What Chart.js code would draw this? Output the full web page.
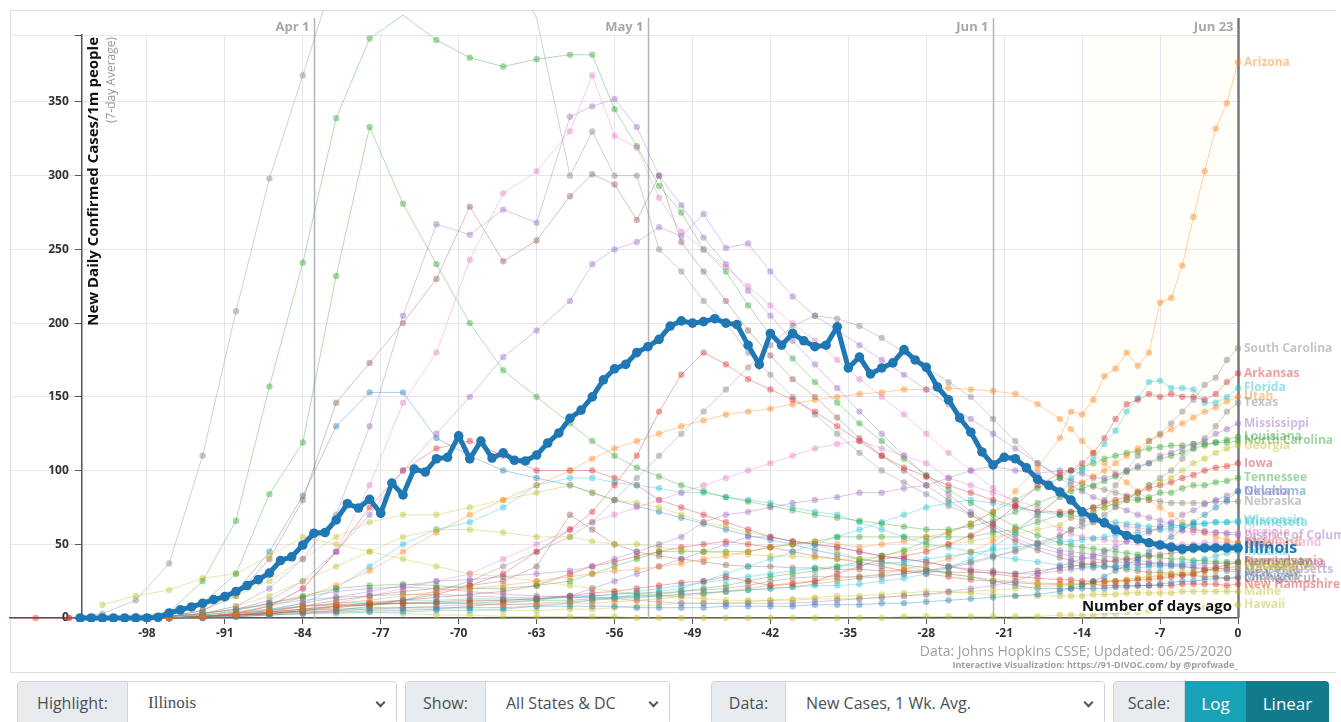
<!DOCTYPE html>
<html lang="en">
<head>
<meta charset="UTF-8">
<title>New Daily Confirmed Cases/1m people</title>
<script src="https://cdn.jsdelivr.net/npm/chart.js"></script>
<style>
  body { margin: 0; background: #fff; font-family: "Open Sans", Arial, sans-serif; width: 1341px; height: 722px; overflow: hidden; position: relative; }
  .chart-box { position: absolute; left: 0; top: 0; width: 1341px; height: 676px; }
  .group { position: absolute; top: 681px; height: 44px; display: flex; border: 1px solid #ced4da; border-radius: 4px; overflow: hidden; font-size: 16px; color: #495057; box-sizing: border-box; }
  .group .lab { background: #e9ecef; display: flex; align-items: center; justify-content: center; border-right: 1px solid #ced4da; box-sizing: border-box; }
  .group .sel { background: #fff; flex: 1; display: flex; align-items: center; padding-left: 20px; position: relative; }
  .group .sel::after { content: ""; position: absolute; right: 12px; top: 17px; width: 5px; height: 5px; border-right: 2px solid #555; border-bottom: 2px solid #555; transform: rotate(45deg); }
  .serif { font-family: "Liberation Serif", serif; font-size: 17px; }
  .btn { display: flex; align-items: center; justify-content: center; color: #fff; font-size: 17px; }
</style>
</head>
<body>
<div class="chart-box"><canvas id="casesChart"></canvas></div>

<div class="group" style="left:17px;width:380px;"><div class="lab" style="width:110px;">Highlight:</div><div class="sel serif">Illinois</div></div>
<div class="group" style="left:405px;width:265px;"><div class="lab" style="width:80px;">Show:</div><div class="sel">All States &amp; DC</div></div>
<div class="group" style="left:711px;width:394px;"><div class="lab" style="width:74px;">Data:</div><div class="sel">New Cases, 1 Wk. Avg.</div></div>
<div class="group" style="left:1113px;width:216px;border:none;"><div class="lab" style="width:72px;border:1px solid #ced4da;border-radius:4px 0 0 4px;">Scale:</div><div class="btn" style="width:61px;background:#17a2b8;">Log</div><div class="btn" style="width:83px;background:#117a8b;">Linear</div></div>

<script>
// days ago where the background states have a point
const DAYS = [-102, -99, -96, -93, -90, -87, -84, -81, -78, -75, -72, -69, -66, -63, -60,
  -58, -56, -54, -52, -50, -48, -46, -44, -42, -40, -38, -36, -34, -32, -30, -28, -26, -24, -22, -20, -18, -16,
  -15, -14, -13, -12, -11, -10, -9, -8, -7, -6, -5, -4, -3, -2, -1, 0];
const LEAD_DAYS = [-111, -108, -105];

const X_TICKS = [-98, -91, -84, -77, -70, -63, -56, -49, -42, -35, -28, -21, -14, -7, 0];
const Y_TICKS = [0, 50, 100, 150, 200, 250, 300, 350];
const MONTH_DAYS = [-83, -53, -22, 0];
const MONTH_LABELS = ['Apr 1', 'May 1', 'Jun 1', 'Jun 23'];

// Illinois, one value per day from day -104 to today
const IL_FIRST_DAY = -104;
const ILLINOIS = [0, 0, 0, 0, 0, 0, 0, 0.5,
  3.4, 5.5, 7.5, 10, 12.5, 14.5, 18, 22, 26, 30.5, 39, 41.5, 49.5, 57.5, 58, 66.5, 77.5, 74.6, 80.5, 71,
  91.5, 83.5, 101, 99, 108, 109, 123.5, 108, 120, 108.5, 112, 107, 106.5, 110.5, 118.7, 125.5, 135.5, 141,
  150, 161.5, 169, 172, 180, 184, 189, 198, 201.5, 200, 201, 203, 200, 199, 185, 172, 193, 185, 193, 188,
  184, 185, 197.5, 169.6, 177, 165.5, 169.6, 173, 182, 175, 170, 156.7, 148, 135.7, 126, 112.6, 103.8, 109,
  108, 101.8, 94, 90, 85.5, 80, 72, 68, 64.5, 59.7, 56, 53.6, 51, 49.5, 48, 46.8, 47.5, 47.5, 47.5, 47.5, 47.5];

const ARIZONA = [0, 0, 0, 1, 3, 5, 8, 10, 12, 15, 18, 20, 22, 25, 28,
  30, 32, 33, 35, 37, 40, 42, 45, 48, 50, 52, 50, 48, 50, 52, 55, 58, 64, 72, 86, 102, 122,
  140, 138, 148, 164, 169, 180, 171, 180, 214, 217, 239, 272, 303, 332, 349, 377];
const SOUTH_CAROLINA = [0, 0, 1, 3, 6, 9, 12, 14, 15, 16, 16, 15, 14, 14, 15,
  15, 16, 17, 17, 18, 19, 20, 22, 25, 27, 28, 28, 28, 29, 30, 32, 34, 37, 41, 46, 51, 56,
  60, 65, 72, 80, 90, 100, 110, 120, 125, 132, 140, 148, 158, 163, 175, 183];
const ARKANSAS_LEAD = [0, 0, 0];
const ARKANSAS = [0, 0, 0, 1, 3, 5, 8, 9, 10, 10, 11, 12, 12, 13, 15,
  17, 18, 20, 22, 24, 25, 28, 25, 22, 23, 25, 30, 35, 40, 42, 45, 50, 56, 64, 76, 90, 98,
  100, 105, 112, 122, 135, 145, 148, 152, 150, 152, 150, 150, 148, 152, 160, 166];
const FLORIDA = [0, 0, 1, 2, 4, 6, 8, 10, 11, 12, 12, 13, 13, 13, 14,
  14, 14, 14, 15, 16, 17, 18, 19, 20, 21, 22, 22, 23, 25, 27, 30, 34, 40, 48, 58, 70, 82,
  95, 100, 108, 118, 127, 140, 149, 160, 161, 156, 156, 155, 146, 146, 150, 156];
const UTAH = [0, 0, 0, 1, 2, 4, 6, 8, 9, 10, 10, 10, 9, 9, 10,
  10, 11, 12, 13, 15, 16, 18, 20, 22, 24, 25, 27, 28, 30, 33, 36, 40, 45, 52, 60, 70, 82,
  88, 92, 96, 100, 105, 110, 115, 120, 124, 128, 132, 136, 140, 143, 147, 150];
const TEXAS = [0, 0, 0, 1, 2, 3, 4, 5, 6, 7, 8, 9, 9, 10, 11,
  12, 13, 14, 15, 16, 17, 18, 19, 20, 21, 23, 25, 27, 28, 30, 32, 35, 38, 42, 45, 50, 55,
  60, 62, 65, 70, 75, 80, 85, 90, 95, 100, 108, 115, 122, 130, 140, 146];
const MISSISSIPPI = [0, 0, 0, 1, 3, 6, 10, 14, 18, 22, 25, 26, 28, 30, 32,
  35, 40, 45, 50, 55, 65, 70, 72, 75, 78, 80, 82, 85, 85, 88, 90, 95, 100, 103, 100, 98, 100,
  100, 98, 95, 95, 97, 100, 103, 105, 110, 112, 115, 118, 120, 125, 128, 132];
const LOUISIANA = [0, 0, 2, 10, 30, 84, 119, 232, 333, 281, 240, 200, 168, 150, 132,
  120, 110, 102, 96, 90, 86, 82, 79, 76, 73, 70, 68, 66, 64, 62, 60, 60, 62, 66, 72, 78, 84,
  86, 88, 90, 93, 96, 99, 102, 105, 108, 110, 112, 115, 117, 119, 121, 123];
const NORTH_CAROLINA = [0, 0, 0, 1, 2, 4, 6, 8, 9, 10, 10, 10, 11, 12, 12,
  13, 14, 15, 16, 18, 20, 22, 25, 28, 30, 32, 35, 38, 42, 46, 52, 58, 64, 72, 80, 88, 95,
  100, 102, 105, 108, 110, 112, 113, 115, 116, 117, 117, 118, 118, 119, 119, 120];
const GEORGIA = [0, 0, 1, 3, 8, 15, 25, 35, 45, 55, 60, 60, 58, 55, 55,
  52, 50, 50, 48, 46, 45, 44, 43, 42, 42, 41, 40, 40, 42, 45, 48, 50, 52, 55, 57, 60, 63,
  68, 70, 72, 75, 78, 80, 85, 90, 92, 95, 100, 105, 108, 112, 115, 117];
const IOWA = [0, 0, 0, 1, 2, 3, 5, 7, 9, 12, 16, 22, 30, 45, 60,
  72, 90, 110, 140, 165, 180, 172, 162, 155, 148, 140, 130, 120, 110, 102, 96, 90, 85, 80, 76, 72, 72,
  72, 73, 75, 78, 80, 82, 85, 88, 90, 92, 95, 97, 100, 102, 103, 105];
const TENNESSEE = [0, 0, 0, 2, 5, 10, 15, 20, 22, 23, 22, 20, 20, 22, 25,
  30, 35, 40, 45, 45, 45, 45, 45, 48, 50, 52, 55, 55, 55, 55, 55, 55, 55, 58, 60, 65, 70,
  72, 72, 75, 75, 78, 80, 80, 82, 85, 85, 88, 90, 90, 92, 93, 95];
const OKLAHOMA = [0, 0, 0, 1, 2, 3, 5, 6, 7, 7, 7, 7, 7, 8, 8,
  8, 8, 7, 7, 7, 7, 8, 8, 8, 8, 9, 9, 9, 10, 10, 11, 12, 13, 14, 15, 16, 18,
  20, 22, 25, 28, 32, 36, 40, 45, 50, 55, 60, 65, 70, 75, 80, 86];
const NEVADA = [0, 0, 1, 3, 6, 10, 14, 18, 20, 21, 20, 18, 16, 15, 14,
  14, 13, 12, 11, 10, 10, 10, 10, 10, 10, 11, 12, 13, 14, 15, 16, 18, 20, 22, 25, 30, 35,
  38, 40, 42, 45, 48, 52, 55, 58, 62, 65, 70, 73, 77, 80, 83, 86];
const NEBRASKA = [0, 0, 0, 0, 1, 2, 3, 5, 8, 12, 18, 25, 35, 45, 55,
  65, 80, 95, 110, 125, 140, 155, 170, 185, 198, 205, 203, 198, 190, 180, 170, 160, 150, 135, 120, 105, 96,
  93, 91, 89, 87, 85, 83, 81, 80, 79, 78, 78, 78, 78, 79, 79, 79];
const WISCONSIN = [0, 0, 0, 1, 2, 4, 6, 8, 9, 10, 10, 11, 12, 13, 14,
  15, 16, 18, 20, 22, 24, 26, 28, 30, 32, 34, 35, 36, 37, 38, 40, 42, 44, 46, 48, 50, 52,
  52, 53, 54, 55, 56, 57, 58, 59, 60, 61, 62, 63, 64, 65, 65, 66];
const MINNESOTA = [0, 0, 0, 0, 1, 2, 3, 3, 4, 4, 5, 5, 6, 8, 10,
  12, 14, 16, 18, 20, 25, 30, 35, 40, 45, 50, 55, 60, 65, 70, 75, 78, 80, 78, 75, 72, 70,
  70, 68, 67, 66, 65, 64, 63, 62, 62, 62, 63, 64, 64, 65, 65, 65];
const DISTRICT_OF_COLUMBIA = [0, 0, 1, 3, 6, 12, 25, 45, 70, 100, 125, 150, 177, 195, 215,
  240, 250, 255, 265, 259, 274, 251, 254, 235, 218, 205, 195, 185, 175, 165, 155, 145, 135, 125, 115, 105, 95,
  90, 86, 82, 79, 76, 73, 70, 68, 66, 64, 62, 60, 59, 58, 57, 56];
const MARYLAND = [0, 0, 1, 2, 4, 8, 14, 22, 32, 45, 58, 70, 80, 90, 100,
  108, 115, 120, 125, 130, 134, 138, 140, 142, 145, 148, 150, 152, 153, 155, 155, 156, 155, 154, 152, 145, 135,
  128, 120, 112, 105, 98, 92, 86, 80, 75, 70, 65, 61, 58, 55, 53, 51];
const VIRGINIA = [0, 0, 0, 1, 2, 4, 6, 10, 15, 20, 25, 30, 40, 50, 60,
  65, 70, 75, 80, 85, 90, 95, 100, 105, 110, 115, 118, 120, 115, 110, 105, 95, 90, 85, 80, 75, 70,
  68, 66, 65, 64, 63, 62, 61, 60, 60, 59, 59, 58, 58, 58, 58, 58];
const RHODE_ISLAND = [0, 0, 0, 1, 3, 8, 20, 45, 90, 146, 180, 243, 288, 303, 330,
  368, 327, 319, 285, 262, 250, 238, 225, 212, 200, 188, 175, 162, 150, 138, 125, 112, 100, 88, 78, 68, 60,
  57, 55, 54, 53, 52, 52, 51, 51, 51, 50, 50, 50, 51, 51, 51, 51];
const OHIO = [0, 0, 0, 1, 2, 4, 8, 12, 15, 18, 20, 22, 25, 35, 70,
  60, 50, 45, 42, 40, 38, 36, 35, 35, 34, 34, 33, 33, 32, 32, 32, 31, 31, 31, 30, 32, 34,
  35, 36, 37, 38, 39, 40, 41, 42, 43, 44, 45, 46, 47, 48, 49, 50];
const INDIANA = [0, 0, 0, 1, 2, 5, 10, 20, 35, 50, 60, 65, 75, 90, 95,
  95, 92, 90, 88, 85, 85, 82, 80, 78, 75, 72, 70, 65, 60, 55, 50, 48, 45, 42, 40, 38, 36,
  36, 35, 35, 35, 35, 34, 34, 35, 35, 36, 37, 38, 40, 42, 44, 45];
const NEW_JERSEY = [0, 1, 4, 25, 66, 157, 241, 339, 393, 409, 392, 380, 374, 379, 382,
  382, 345, 320, 293, 275, 250, 235, 212, 192, 176, 160, 146, 132, 120, 108, 97, 87, 78, 70, 62, 56, 51,
  49, 48, 47, 46, 45, 44, 43, 42, 41, 40, 40, 39, 39, 38, 38, 38];
const NORTH_DAKOTA = [0, 0, 0, 0, 1, 2, 3, 4, 5, 5, 6, 8, 10, 12, 15,
  20, 25, 30, 35, 40, 45, 50, 55, 55, 52, 50, 48, 45, 42, 40, 38, 35, 33, 32, 30, 30, 32,
  33, 34, 34, 35, 35, 36, 36, 37, 37, 37, 36, 36, 37, 37, 37, 37];
const PENNSYLVANIA = [0, 0, 0, 1, 3, 8, 20, 45, 75, 100, 115, 120, 110, 100, 100,
  100, 95, 90, 80, 75, 70, 65, 60, 55, 52, 50, 48, 45, 42, 40, 38, 35, 32, 30, 28, 27, 26,
  26, 25, 25, 25, 25, 25, 26, 26, 27, 28, 29, 30, 32, 34, 36, 38];
const MASSACHUSETTS = [0, 0, 1, 3, 8, 20, 40, 70, 130, 205, 267, 260, 277, 268, 340,
  347, 352, 333, 300, 280, 258, 240, 222, 205, 188, 172, 156, 140, 125, 110, 96, 84, 72, 62, 54, 48, 44,
  42, 41, 40, 39, 38, 38, 37, 36, 36, 35, 35, 34, 34, 34, 33, 33];
const COLORADO = [0, 1, 3, 8, 15, 25, 40, 55, 65, 70, 70, 75, 80, 85, 90,
  85, 80, 78, 75, 70, 65, 62, 58, 55, 52, 50, 45, 40, 38, 35, 32, 30, 28, 26, 25, 24, 23,
  23, 23, 24, 24, 25, 26, 27, 28, 29, 30, 31, 31, 32, 33, 34, 35];
const WASHINGTON = [9, 15, 19, 27, 30, 42, 55, 50, 45, 40, 35, 30, 28, 25, 22,
  20, 18, 16, 15, 14, 13, 12, 12, 12, 12, 13, 13, 13, 14, 15, 16, 17, 18, 19, 20, 21, 22,
  22, 23, 24, 25, 25, 26, 27, 28, 28, 29, 30, 31, 32, 33, 34, 35];
const NEW_YORK_LEAD = [null, null, 0];
const NEW_YORK = [3, 12, 37, 110, 208, 298, 368, 440, 480, 500, 505, 480, 450, 407, 300,
  330, 300, 300, 250, 235, 215, 200, 180, 165, 150, 138, 125, 112, 100, 92, 84, 76, 70, 63, 57, 51, 46,
  45, 44, 43, 42, 41, 40, 39, 38, 37, 36, 35, 34, 33, 32, 32, 31];
const CONNECTICUT = [0, 0, 1, 5, 15, 40, 80, 146, 173, 200, 230, 279, 242, 256, 286,
  301, 294, 270, 300, 255, 235, 215, 195, 178, 162, 150, 136, 122, 110, 100, 90, 80, 70, 60, 52, 46, 41,
  39, 37, 36, 35, 34, 33, 32, 31, 31, 30, 29, 29, 28, 28, 27, 27];
const MICHIGAN = [0, 0, 1, 5, 18, 45, 83, 130, 153, 153, 122, 110, 100, 95, 90,
  85, 80, 76, 72, 68, 64, 60, 56, 53, 50, 46, 43, 40, 38, 36, 34, 30, 28, 25, 22, 20, 20,
  20, 20, 20, 20, 21, 21, 22, 22, 23, 24, 25, 25, 26, 27, 27, 28];
const NEW_HAMPSHIRE = [0, 0, 0, 0, 1, 3, 5, 8, 10, 12, 14, 16, 18, 22, 30,
  35, 38, 42, 45, 48, 50, 52, 50, 48, 45, 42, 40, 38, 35, 32, 30, 28, 26, 25, 24, 23, 23,
  23, 23, 23, 22, 22, 22, 22, 22, 22, 22, 23, 23, 23, 23, 22, 23];
const MAINE = [0, 0, 0, 1, 2, 3, 4, 5, 6, 6, 6, 6, 5, 5, 6,
  6, 7, 8, 9, 10, 10, 10, 11, 12, 13, 14, 15, 15, 16, 17, 18, 18, 17, 16, 15, 15, 15,
  15, 15, 16, 16, 16, 17, 17, 17, 17, 17, 18, 18, 18, 18, 18, 18];
const HAWAII = [0, 0, 0, 1, 2, 3, 4, 4, 4, 3, 2, 2, 1, 1, 1,
  1, 1, 0, 0, 0, 0, 0, 0, 0, 0, 0, 0, 0, 0, 1, 1, 1, 1, 1, 1, 1, 2,
  2, 2, 2, 3, 3, 4, 4, 5, 5, 6, 6, 7, 7, 8, 8, 9];

const C = { blue: '#1f77b4', orange: '#ff7f0e', green: '#2ca02c', red: '#d62728', purple: '#9467bd',
  brown: '#8c564b', pink: '#e377c2', gray: '#7f7f7f', olive: '#bcbd22', cyan: '#17becf' };

const STATES = [
  { name: 'Arizona', color: C.orange, values: ARIZONA },
  { name: 'South Carolina', color: C.gray, values: SOUTH_CAROLINA },
  { name: 'Arkansas', color: C.red, values: ARKANSAS, lead: ARKANSAS_LEAD },
  { name: 'Florida', color: C.cyan, values: FLORIDA },
  { name: 'Utah', color: C.orange, values: UTAH },
  { name: 'Texas', color: C.gray, values: TEXAS },
  { name: 'Mississippi', color: C.purple, values: MISSISSIPPI },
  { name: 'Louisiana', color: C.green, values: LOUISIANA },
  { name: 'North Carolina', color: C.green, values: NORTH_CAROLINA },
  { name: 'Georgia', color: C.olive, values: GEORGIA },
  { name: 'Iowa', color: C.red, values: IOWA },
  { name: 'Tennessee', color: C.green, values: TENNESSEE },
  { name: 'Oklahoma', color: C.blue, values: OKLAHOMA },
  { name: 'Nevada', color: C.purple, values: NEVADA },
  { name: 'Nebraska', color: C.gray, values: NEBRASKA },
  { name: 'Wisconsin', color: C.cyan, values: WISCONSIN },
  { name: 'Minnesota', color: C.cyan, values: MINNESOTA },
  { name: 'District of Columbia', color: C.purple, values: DISTRICT_OF_COLUMBIA },
  { name: 'Maryland', color: C.orange, values: MARYLAND },
  { name: 'Virginia', color: C.pink, values: VIRGINIA },
  { name: 'Rhode Island', color: C.pink, values: RHODE_ISLAND },
  { name: 'Ohio', color: C.brown, values: OHIO },
  { name: 'Indiana', color: C.cyan, values: INDIANA },
  { name: 'New Jersey', color: C.green, values: NEW_JERSEY },
  { name: 'North Dakota', color: C.purple, values: NORTH_DAKOTA },
  { name: 'Pennsylvania', color: C.red, values: PENNSYLVANIA },
  { name: 'Massachusetts', color: C.purple, values: MASSACHUSETTS },
  { name: 'Colorado', color: C.olive, values: COLORADO },
  { name: 'Washington', color: C.olive, values: WASHINGTON },
  { name: 'New York', color: C.gray, values: NEW_YORK, lead: NEW_YORK_LEAD },
  { name: 'Connecticut', color: C.brown, values: CONNECTICUT },
  { name: 'Michigan', color: C.blue, values: MICHIGAN },
  { name: 'New Hampshire', color: C.red, values: NEW_HAMPSHIRE },
  { name: 'Maine', color: C.olive, values: MAINE },
  { name: 'Hawaii', color: C.olive, values: HAWAII }
];

STATES.forEach(s => { if (s.values.length !== DAYS.length) throw new Error(s.name + ' has ' + s.values.length); });

const X_MIN = -110.3;
const Y_MAX = 395.4;
const Y_AXIS_AT = -103.9;
const BAND_FROM = -14;
const FONT = '"Open Sans", Arial, sans-serif';

function fade(hex, a) {
  const n = parseInt(hex.slice(1), 16);
  return `rgba(${n >> 16}, ${(n >> 8) & 255}, ${n & 255}, ${a})`;
}

const CLIP = { left: 0, top: 25, right: 8, bottom: 4 };

const illinoisSet = {
  label: 'Illinois',
  data: ILLINOIS.map((v, i) => ({ x: IL_FIRST_DAY + i, y: v })),
  borderColor: C.blue,
  backgroundColor: C.blue,
  borderWidth: 5,
  pointRadius: 4.8,
  pointBorderWidth: 0,
  clip: CLIP
};

const stateSets = STATES.map(s => {
  const lead = s.lead ? LEAD_DAYS.map((d, i) => ({ x: d, y: s.lead[i] })) : [];
  return {
    label: s.name,
    data: lead.concat(DAYS.map((d, i) => ({ x: d, y: s.values[i] }))),
    borderColor: fade(s.color, 0.36),
    backgroundColor: fade(s.color, 0.42),
    borderWidth: 1,
    pointRadius: 3.2,
    pointBorderWidth: 0,
    clip: CLIP
  };
});

const decor = {
  id: 'decor',
  beforeDraw(chart) {
    const { ctx, chartArea: a, scales: { x } } = chart;
    ctx.save();
    ctx.fillStyle = '#fff';
    ctx.fillRect(0, 0, chart.width, chart.height);
    // outer frame
    ctx.strokeStyle = '#dedede';
    ctx.lineWidth = 1;
    ctx.beginPath();
    ctx.moveTo(10.5, 672.5); ctx.lineTo(10.5, 10.5); ctx.lineTo(1336, 10.5);
    ctx.moveTo(10.5, 672.5); ctx.lineTo(1336, 672.5);
    ctx.stroke();
    // last two weeks band
    const bx = x.getPixelForValue(BAND_FROM);
    ctx.fillStyle = 'rgba(255, 246, 205, 0.14)';
    ctx.fillRect(bx, a.top, x.getPixelForValue(0) - bx, a.bottom - a.top);
    ctx.restore();
  },
  beforeDatasetsDraw(chart) {
    const { ctx, chartArea: a, scales: { x } } = chart;
    ctx.save();
    ctx.font = `bold 13px ${FONT}`;
    ctx.textAlign = 'right';
    ctx.textBaseline = 'middle';
    MONTH_DAYS.forEach((d, i) => {
      const px = Math.round(x.getPixelForValue(d)) + 0.5;
      const last = i === MONTH_DAYS.length - 1;
      ctx.strokeStyle = last ? '#777780' : '#b4b4bc';
      ctx.lineWidth = last ? 2.5 : 1.5;
      ctx.beginPath();
      ctx.moveTo(px, 18);
      ctx.lineTo(px, a.bottom);
      ctx.stroke();
      ctx.fillStyle = '#a8a8a8';
      ctx.fillText(MONTH_LABELS[i], px - 5, 27);
    });
    ctx.restore();
  },
  afterDatasetsDraw(chart) {
    const { ctx, chartArea: a, scales: { y } } = chart;
    ctx.save();
    ctx.textAlign = 'left';
    ctx.textBaseline = 'middle';
    ctx.font = `bold 12px ${FONT}`;
    STATES.forEach(s => {
      const v = s.values[s.values.length - 1];
      ctx.fillStyle = fade(s.color, 0.45);
      ctx.fillText(s.name, a.right + 6, y.getPixelForValue(v));
    });
    ctx.font = `bold 16px ${FONT}`;
    ctx.fillStyle = C.blue;
    ctx.fillText('Illinois', a.right + 6, y.getPixelForValue(ILLINOIS[ILLINOIS.length - 1]));
    ctx.restore();
  },
  afterDraw(chart) {
    const { ctx, chartArea: a, scales: { x } } = chart;
    ctx.save();
    // y axis title, reads upward from the top of the axis
    const ax = x.getPixelForValue(Y_AXIS_AT);
    ctx.translate(ax + 12, a.top + 2);
    ctx.rotate(-Math.PI / 2);
    ctx.textAlign = 'right';
    ctx.textBaseline = 'middle';
    ctx.font = `bold 15px ${FONT}`;
    ctx.fillStyle = '#111';
    ctx.fillText('New Daily Confirmed Cases/1m people', 0, 0);
    ctx.font = `12px ${FONT}`;
    ctx.fillStyle = '#999';
    ctx.fillText('(7-day Average)', 0, 18);
    ctx.restore();

    ctx.save();
    ctx.font = `bold 15px ${FONT}`;
    ctx.textAlign = 'right';
    ctx.textBaseline = 'middle';
    ctx.lineWidth = 4;
    ctx.strokeStyle = 'rgba(255,255,255,0.9)';
    ctx.strokeText('Number of days ago', a.right - 6, a.bottom - 11);
    ctx.fillStyle = '#111';
    ctx.fillText('Number of days ago', a.right - 6, a.bottom - 11);

    ctx.fillStyle = '#a0a0a0';
    ctx.font = `14px ${FONT}`;
    ctx.fillText('Data: Johns Hopkins CSSE; Updated: 06/25/2020', a.right - 6, 652);
    ctx.font = `bold 9px ${FONT}`;
    ctx.fillText('Interactive Visualization: https://91-DIVOC.com/ by @profwade_', a.right, 665);
    ctx.restore();
  }
};

new Chart(document.getElementById('casesChart'), {
  type: 'line',
  data: { datasets: [illinoisSet].concat(stateSets) },
  options: {
    responsive: true,
    maintainAspectRatio: false,
    animation: false,
    events: [],
    layout: { padding: { left: 10, right: 103, top: 35, bottom: 28 } },
    elements: { line: { tension: 0 } },
    plugins: { legend: { display: false }, tooltip: { enabled: false } },
    scales: {
      x: {
        type: 'linear',
        min: X_MIN,
        max: 0,
        afterBuildTicks: s => { s.ticks = X_TICKS.map(v => ({ value: v })); },
        afterFit: s => { s.height = 30; },
        grid: { color: '#e6e6ee', lineWidth: 1, tickLength: 6, tickColor: '#555' },
        border: { display: true, color: '#555', width: 1.5 },
        ticks: { font: { family: FONT, size: 12, weight: 'bold' }, color: '#333', padding: 2, maxRotation: 0, autoSkip: false }
      },
      y: {
        type: 'linear',
        min: 0,
        max: Y_MAX,
        position: { x: Y_AXIS_AT },
        afterBuildTicks: s => { s.ticks = Y_TICKS.concat([Y_MAX]).map(v => ({ value: v })); },
        grid: { color: '#e6e6ee', lineWidth: 1, tickLength: 6, tickColor: '#555' },
        border: { display: true, color: '#555', width: 1.5 },
        ticks: {
          font: { family: FONT, size: 12, weight: 'bold' },
          color: '#333',
          callback: v => (Y_TICKS.includes(v) ? v + '    ' : '')
        }
      }
    }
  },
  plugins: [decor]
});
</script>
</body>
</html>
